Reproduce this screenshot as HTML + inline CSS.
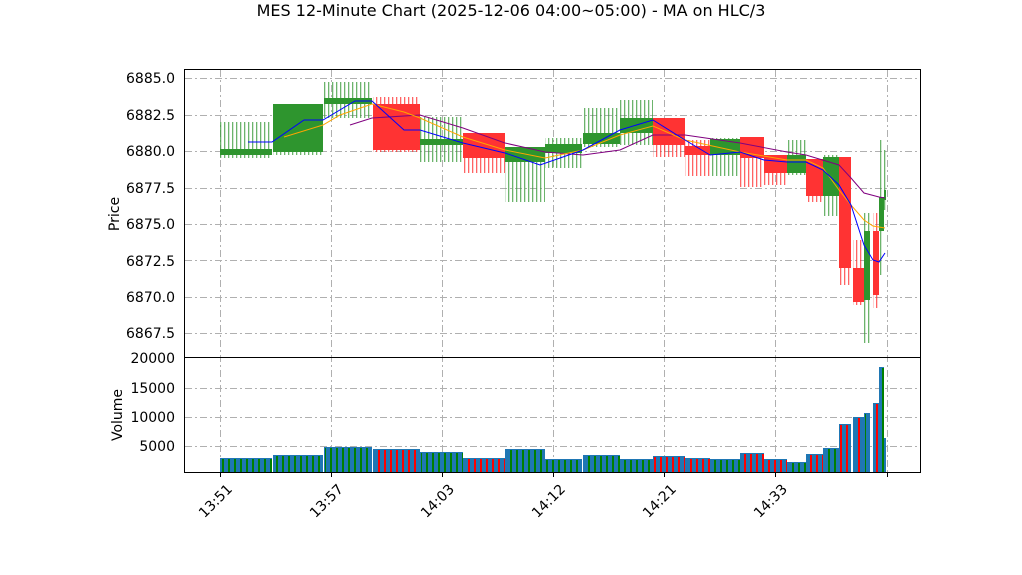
<!DOCTYPE html>
<html><head><meta charset="utf-8"><style>
body{margin:0;background:#fff}
svg{display:block;font-family:"DejaVu Sans","Liberation Sans",sans-serif}
</style></head><body>
<svg id="s" width="1022" height="575" viewBox="0 0 1022 575" xmlns="http://www.w3.org/2000/svg">
<defs>
<pattern id="gw" width="4" height="10" patternUnits="userSpaceOnUse"><rect x="0" y="0" width="1.3" height="10" fill="#3a9a3a" opacity="0.75"/></pattern>
<pattern id="rw" width="4" height="10" patternUnits="userSpaceOnUse"><rect x="0" y="0" width="1.3" height="10" fill="#ff3030" opacity="0.75"/></pattern>
<pattern id="gv" width="6" height="10" patternUnits="userSpaceOnUse"><rect x="0" y="0" width="2" height="10" fill="#008000"/></pattern>
<pattern id="rv" width="6" height="10" patternUnits="userSpaceOnUse"><rect x="0" y="0" width="2" height="10" fill="#ff0000"/></pattern>
</defs>
<text x="511" y="16" font-size="16" text-anchor="middle">MES 12-Minute Chart (2025-12-06 04:00~05:00) - MA on HLC/3</text>
<g id="grid" stroke="#b0b0b0" stroke-width="1" stroke-dasharray="7,3,2,3"></g>
<g id="cand"></g>
<g id="vol"></g>
<g fill="none" stroke-width="1">
<polyline stroke="#800080" points="350,125 372,118 420,115 463,128 505,143 545,152 583,155 620,150 653,135 685,135 740,143 787,152 806,155 839,165 851,178 864,193 879,197 885,198"/>
<polyline stroke="#ffa500" points="284,137 323,125 340,115 372,104 404,112 420,118 463,137 505,150 545,158 583,150 620,135 653,126 685,140 740,152 787,160 806,160 823,168 839,190 851,205 864,220 873,226 885,228"/>
<polyline stroke="#0000ff" points="248,142 272,142 304,120 323,120 355,101 372,101 404,130 420,130 463,143 505,153 540,165 583,150 620,130 653,120 685,140 710,155 740,152 764,160 787,162 806,162 823,170 839,185 851,205 864,245 873,260 879,262 885,253"/>
</g>
<rect x="184.5" y="69.5" width="736" height="288" fill="none" stroke="#000"/>
<rect x="184.5" y="357.5" width="736" height="115" fill="none" stroke="#000"/>
<g font-size="14" text-anchor="end" id="yl">
<text x="175" y="83">6885.0</text><text x="175" y="120">6882.5</text><text x="175" y="156">6880.0</text><text x="175" y="193">6877.5</text><text x="175" y="229">6875.0</text><text x="175" y="266">6872.5</text><text x="175" y="302">6870.0</text><text x="175" y="338">6867.5</text>
<text x="175" y="363">20000</text><text x="175" y="393">15000</text><text x="175" y="422">10000</text><text x="175" y="451">5000</text>
</g>
<text transform="translate(119,214) rotate(-90)" font-size="14" text-anchor="middle">Price</text>
<text transform="translate(122,415) rotate(-90)" font-size="14" text-anchor="middle">Volume</text>
<g font-size="14" text-anchor="end">
<text transform="translate(233,490) rotate(-45)">13:51</text>
<text transform="translate(344,490) rotate(-45)">13:57</text>
<text transform="translate(455,490) rotate(-45)">14:03</text>
<text transform="translate(566,490) rotate(-45)">14:12</text>
<text transform="translate(677,490) rotate(-45)">14:21</text>
<text transform="translate(788,490) rotate(-45)">14:33</text>
</g>
</svg>
<script>
var N="http://www.w3.org/2000/svg";
function el(p,t,a){var e=document.createElementNS(N,t);for(var k in a)e.setAttribute(k,a[k]);document.getElementById(p).appendChild(e);return e;}
[78,115,151,188,224,260,297,333].forEach(function(y){el("grid","line",{x1:185,x2:920,y1:y+.5,y2:y+.5});});
[388,417,446].forEach(function(y){el("grid","line",{x1:185,x2:920,y1:y+.5,y2:y+.5});});
[220,331,442,553,664,775,887].forEach(function(x){el("grid","line",{x1:x+.5,x2:x+.5,y1:70,y2:472});
var t=el("grid","line",{x1:x+.5,x2:x+.5,y1:472,y2:477});t.setAttribute("stroke","#000");t.setAttribute("stroke-dasharray","none");});
var C=[[220,272,"g",149,155,122,158,458],[273,323,"g",104,152,104,155,455],[324,372,"g",98,104,82,118,447],[373,420,"r",104,150,97,152,449],
[420,463,"g",139,145,117,162,452],[463,505,"r",133,158,133,173,458],[505,545,"g",147,162,147,202,449],[545,582,"g",144,153,138,168,459],
[583,620,"g",133,144,108,147,455],[620,653,"g",118,133,100,145,459],[653,685,"r",118,145,118,157,456],[685,710,"r",146,155,140,176,458],
[710,740,"g",139,155,138,176,459],[740,764,"r",137,158,137,187,453],[764,787,"r",155,173,155,185,459],[787,806,"g",155,173,140,175,462],
[806,823,"r",159,196,159,202,454],[823,839,"g",157,196,155,216,448],[839,851,"r",157,268,157,285,424],[853,864,"r",268,302,240,305,417],
[864,870,"g",231,300,213,343,413],[873,879,"r",231,295,213,308,403],[879,884,"g",197,231,140,275,367],[884,886,"g",190,200,150,210,438]];
C.forEach(function(c){var w=c[1]-c[0];var col=c[2]=="g"?"#2e952e":"#ff3333";
el("cand","rect",{x:c[0],y:c[5],width:w,height:c[6]-c[5],fill:"url(#"+c[2]+"w)"});
el("cand","rect",{x:c[0],y:c[3],width:w,height:Math.max(2,c[4]-c[3]),fill:col});
var vt=c[7];el("vol","rect",{x:c[0],y:vt,width:w,height:472-vt,fill:"#1f77b4"});
el("vol","rect",{x:c[0]+1,y:vt+1,width:w-1,height:471-vt,fill:"url(#"+c[2]+"v)"});});
</script>
</body></html>
